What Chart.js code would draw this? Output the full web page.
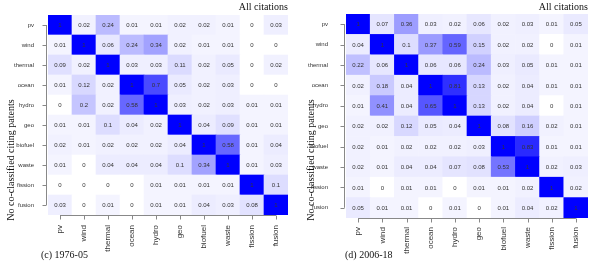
<!DOCTYPE html>
<html>
<head>
<meta charset="utf-8">
<script src="https://cdn.jsdelivr.net/npm/chart.js@4.4.0/dist/chart.umd.min.js"></script>
<style>
    html, body { margin: 0; padding: 0; background: #fff; }
    #wrap { display: flex; width: 598px; height: 263px; }
    .panel { position: relative; width: 299px; height: 263px; }
</style>
</head>
<body>
<div id="wrap">
    <div class="panel"><canvas id="chartEarly"></canvas></div>
    <div class="panel"><canvas id="chartLate"></canvas></div>
</div>
<script>
// technologies, rows top to bottom and columns left to right
const techs = ['pv', 'wind', 'thermal', 'ocean', 'hydro', 'geo', 'biofuel', 'waste', 'fission', 'fusion'];

// (c) 1976-05, one row per citing technology
const shares1976 = [
    [1, 0.02, 0.24, 0.01, 0.01, 0.02, 0.02, 0.01, 0, 0.03],
    [0.01, 1, 0.06, 0.24, 0.34, 0.02, 0.01, 0.01, 0, 0],
    [0.09, 0.02, 1, 0.03, 0.03, 0.11, 0.02, 0.05, 0, 0.02],
    [0.01, 0.12, 0.02, 1, 0.7, 0.05, 0.02, 0.03, 0, 0],
    [0, 0.2, 0.02, 0.58, 1, 0.03, 0.02, 0.03, 0.01, 0.01],
    [0.01, 0.01, 0.1, 0.04, 0.02, 1, 0.04, 0.09, 0.01, 0.01],
    [0.02, 0.01, 0.02, 0.02, 0.02, 0.04, 1, 0.58, 0.01, 0.04],
    [0.01, 0, 0.04, 0.04, 0.04, 0.1, 0.34, 1, 0.01, 0.03],
    [0, 0, 0, 0, 0.01, 0.01, 0.01, 0.01, 1, 0.1],
    [0.03, 0, 0.01, 0, 0.01, 0.01, 0.04, 0.03, 0.08, 1]
];

// (d) 2006-18
const shares2006 = [
    [1, 0.07, 0.36, 0.03, 0.02, 0.06, 0.02, 0.03, 0.01, 0.05],
    [0.04, 1, 0.1, 0.37, 0.59, 0.15, 0.02, 0.02, 0, 0.01],
    [0.22, 0.06, 1, 0.06, 0.06, 0.24, 0.03, 0.05, 0.01, 0.01],
    [0.02, 0.18, 0.04, 1, 0.81, 0.13, 0.02, 0.04, 0.01, 0.01],
    [0.01, 0.41, 0.04, 0.65, 1, 0.13, 0.02, 0.04, 0, 0.01],
    [0.02, 0.02, 0.12, 0.05, 0.04, 1, 0.08, 0.16, 0.02, 0.01],
    [0.02, 0.01, 0.02, 0.02, 0.02, 0.03, 1, 0.83, 0.01, 0.01],
    [0.02, 0.01, 0.04, 0.04, 0.07, 0.08, 0.53, 1, 0.02, 0.03],
    [0.01, 0, 0.01, 0.01, 0, 0.01, 0.01, 0.02, 1, 0.02],
    [0.05, 0.01, 0.01, 0, 0.01, 0, 0.01, 0.04, 0.02, 1]
];

const SANS = "'Liberation Sans', Arial, sans-serif";
const SERIF = "'Liberation Serif', 'Times New Roman', serif";

const cellColor = (v) => {
    if (v === 0) return '#ffffff';
    const c = Math.round(246 * (1 - v));
    return `rgb(${c},${c},255)`;
};

// value text in the middle of every cell
const cellText = {
    id: 'cellText',
    afterDatasetsDraw(chart) {
        const ctx = chart.ctx;
        ctx.save();
        ctx.font = `6px ${SANS}`;
        ctx.fillStyle = '#333';
        ctx.textAlign = 'center';
        ctx.textBaseline = 'middle';
        chart.data.datasets.forEach((ds, i) => {
            chart.getDatasetMeta(i).data.forEach((bar, j) => {
                ctx.fillText(String(ds.values[j]), bar.x, (bar.y + bar.base) / 2 + 0.5);
            });
        });
        ctx.restore();
    }
};

// R style axes: line from first to last tick, ticks pointing out
const baseAxes = {
    id: 'baseAxes',
    afterDraw(chart) {
        const { ctx, chartArea } = chart;
        const x = chart.scales.x;
        const y = chart.scales.y;
        const yl = chartArea.left - 1.5;
        const xb = chartArea.bottom + 0.5;
        ctx.save();
        ctx.strokeStyle = '#888';
        ctx.lineWidth = 1;
        ctx.beginPath();
        ctx.moveTo(yl, y.getPixelForTick(0));
        ctx.lineTo(yl, y.getPixelForTick(techs.length - 1));
        for (let i = 0; i < techs.length; i++) {
            const py = Math.round(y.getPixelForTick(i)) + 0.5;
            ctx.moveTo(yl, py);
            ctx.lineTo(yl - 4, py);
        }
        ctx.moveTo(x.getPixelForTick(0), xb);
        ctx.lineTo(x.getPixelForTick(techs.length - 1), xb);
        for (let i = 0; i < techs.length; i++) {
            const px = Math.round(x.getPixelForTick(i)) + 0.5;
            ctx.moveTo(px, xb);
            ctx.lineTo(px, xb + 4);
        }
        ctx.stroke();
        ctx.restore();
    }
};

// panel texts
const captions = {
    id: 'captions',
    afterDraw(chart, args, opts) {
        const { ctx, chartArea } = chart;
        ctx.save();
        ctx.fillStyle = '#111';
        ctx.font = `10px ${SERIF}`;
        ctx.textBaseline = 'middle';
        ctx.textAlign = 'right';
        ctx.fillText(opts.top, chartArea.right, 7);
        ctx.textAlign = 'left';
        ctx.fillText(opts.bottom, chartArea.left + opts.bottomShift, 255);
        ctx.translate(opts.sideX, 160);
        ctx.rotate(-Math.PI / 2);
        ctx.textAlign = 'center';
        ctx.fillText(opts.side, 0, 0);
        ctx.restore();
    }
};

const makeChart = (canvasId, shares, caption, box) => {
    // bottom row first so that pv ends up on top of the stack
    const datasets = techs.map((_, k) => {
        const r = techs.length - 1 - k;
        return {
            label: techs[r],
            data: techs.map(() => 1),
            values: shares[r],
            backgroundColor: shares[r].map(cellColor),
            borderWidth: 0,
            barPercentage: 1,
            categoryPercentage: 1
        };
    });

    return new Chart(document.getElementById(canvasId), {
        type: 'bar',
        data: { labels: techs, datasets: datasets },
        options: {
            responsive: true,
            maintainAspectRatio: false,
            animation: false,
            devicePixelRatio: 1,
            events: [],
            layout: { padding: { left: 0, right: box.right, top: box.top, bottom: 0 } },
            plugins: {
                legend: { display: false },
                tooltip: { enabled: false },
                captions: {
                    top: 'All citations',
                    bottom: caption,
                    bottomShift: box.captionShift,
                    side: 'No co-classified citing patents',
                    sideX: box.sideX
                }
            },
            scales: {
                x: {
                    stacked: true,
                    grid: { display: false },
                    border: { display: false },
                    afterFit: (s) => { s.height = box.xHeight; },
                    ticks: {
                        autoSkip: false,
                        minRotation: 90,
                        maxRotation: 90,
                        padding: box.xPad,
                        color: '#333',
                        font: { family: SANS, size: 8 }
                    }
                },
                y: {
                    stacked: true,
                    min: 0,
                    max: techs.length,
                    grid: { display: false },
                    border: { display: false },
                    afterFit: (s) => { s.width = box.yWidth; },
                    afterBuildTicks: (s) => {
                        s.ticks = techs.map((_, i) => ({ value: i + 0.5 }));
                    },
                    ticks: {
                        autoSkip: false,
                        padding: box.yPad,
                        color: '#333',
                        font: { family: SANS, size: 6 },
                        callback: (v) => techs[techs.length - 1 - Math.floor(v)]
                    }
                }
            }
        },
        plugins: [cellText, baseAxes, captions]
    });
};

makeChart('chartEarly', shares1976, '(c) 1976-05',
    { right: 11, top: 15, xHeight: 48, yWidth: 48, xPad: 2, yPad: 6, captionShift: -7, sideX: 11 });
makeChart('chartLate', shares2006, '(d) 2006-18',
    { right: 10, top: 14, xHeight: 45, yWidth: 47, xPad: 1, yPad: 10, captionShift: -1, sideX: 12 });
</script>
</body>
</html>
